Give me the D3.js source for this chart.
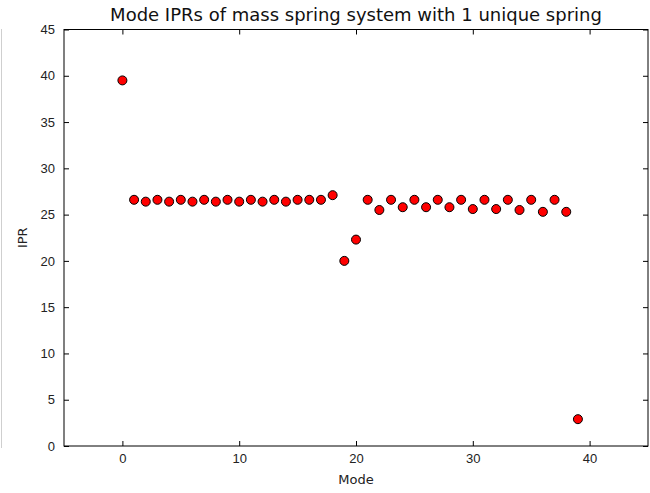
<!DOCTYPE html>
<html>
<head>
<meta charset="utf-8">
<script src="https://cdn.jsdelivr.net/npm/d3@7"></script>
<style>
  body { margin: 0; background: #fff; }
  svg { display: block; font-family: "DejaVu Sans", sans-serif; }
  .axis text { font-size: 13px; fill: #222; }
  .axis line { stroke: #000; }
  .title { font-size: 18px; fill: #111; }
  .axis-label { font-size: 13px; fill: #222; }
</style>
</head>
<body>
<div id="chart"></div>
<script>
// Dados
var modes = [0, 1, 2, 3, 4, 5, 6, 7, 8, 9, 10, 11, 12, 13, 14, 15, 16, 17, 18, 19,
             20, 21, 22, 23, 24, 25, 26, 27, 28, 29, 30, 31, 32, 33, 34, 35, 36, 37, 38, 39];
var iprValues = [39.5, 26.6, 26.4, 26.6, 26.4, 26.6, 26.4, 26.6, 26.4, 26.6,
                 26.4, 26.6, 26.4, 26.6, 26.4, 26.6, 26.6, 26.6, 27.1, 20.0,
                 22.3, 26.6, 25.5, 26.6, 25.8, 26.6, 25.8, 26.6, 25.8, 26.6,
                 25.6, 26.6, 25.6, 26.6, 25.5, 26.6, 25.3, 26.6, 25.3, 2.9];
var xTicks = [0, 10, 20, 30, 40];
var yTicks = [0, 5, 10, 15, 20, 25, 30, 35, 40, 45];

var datapoints = modes.map(function(m, i) { return { mode: m, ipr: iprValues[i] }; });

// Configura margens do svg
var margin = { top: 29.5, left: 64, right: 2, bottom: 47 },
  height = 493 - margin.top - margin.bottom,
  width = 650 - margin.left - margin.right;

var root = d3.select("#chart")
  .append("svg")
  .attr("width", 650)
  .attr("height", 493);

// Linha cinza da borda esquerda da captura
root.append("line")
  .attr("x1", 1.5).attr("x2", 1.5)
  .attr("y1", 29).attr("y2", 448)
  .attr("stroke", "#cfcfcf")
  .attr("stroke-width", 1);

var svg = root.append("g")
  .attr("transform", "translate(" + margin.left + "," + margin.top + ")");

// Escalas
var xPositionScale = d3.scaleLinear()
  .domain([-5, 45])
  .range([0, width]);

var yPositionScale = d3.scaleLinear()
  .domain([0, 45])
  .range([height, 0]);

// Eixos (ticks para dentro, estilo matplotlib)
var xAxis = d3.axisBottom(xPositionScale)
  .tickValues(xTicks)
  .tickSizeInner(-5)
  .tickSizeOuter(0)
  .tickPadding(8);

svg.append("g")
  .attr("class", "axis x-axis")
  .attr("transform", "translate(0," + height + ")")
  .call(xAxis)
  .select(".domain").remove();

var xAxisTop = d3.axisTop(xPositionScale)
  .tickValues(xTicks)
  .tickSizeInner(-5)
  .tickSizeOuter(0)
  .tickFormat("");

svg.append("g")
  .attr("class", "axis x-axis-top")
  .call(xAxisTop)
  .select(".domain").remove();

var yAxis = d3.axisLeft(yPositionScale)
  .tickValues(yTicks)
  .tickSizeInner(-5)
  .tickSizeOuter(0)
  .tickPadding(9);

svg.append("g")
  .attr("class", "axis y-axis")
  .call(yAxis)
  .select(".domain").remove();

var yAxisRight = d3.axisRight(yPositionScale)
  .tickValues(yTicks)
  .tickSizeInner(-5)
  .tickSizeOuter(0)
  .tickFormat("");

svg.append("g")
  .attr("class", "axis y-axis-right")
  .attr("transform", "translate(" + width + ",0)")
  .call(yAxisRight)
  .select(".domain").remove();

// Moldura
svg.append("rect")
  .attr("x", 0)
  .attr("y", 0)
  .attr("width", width)
  .attr("height", height)
  .attr("fill", "none")
  .attr("stroke", "#000")
  .attr("stroke-width", 1);

// Pontos
svg.selectAll(".dot")
  .data(datapoints)
  .enter().append("circle")
  .attr("class", "dot")
  .attr("cx", function(d) { return xPositionScale(d.mode); })
  .attr("cy", function(d) { return yPositionScale(d.ipr); })
  .attr("r", 4.5)
  .attr("fill", "#ff0000")
  .attr("stroke", "#000")
  .attr("stroke-width", 1);

// Títulos
svg.append("text")
  .attr("class", "title")
  .attr("x", width / 2)
  .attr("y", -8.5)
  .attr("text-anchor", "middle")
  .text("Mode IPRs of mass spring system with 1 unique spring");

svg.append("text")
  .attr("class", "axis-label")
  .attr("x", width / 2)
  .attr("y", height + 38)
  .attr("text-anchor", "middle")
  .text("Mode");

svg.append("text")
  .attr("class", "axis-label")
  .attr("transform", "translate(-37," + (height / 2) + ") rotate(-90)")
  .attr("text-anchor", "middle")
  .text("IPR");
</script>
</body>
</html>
